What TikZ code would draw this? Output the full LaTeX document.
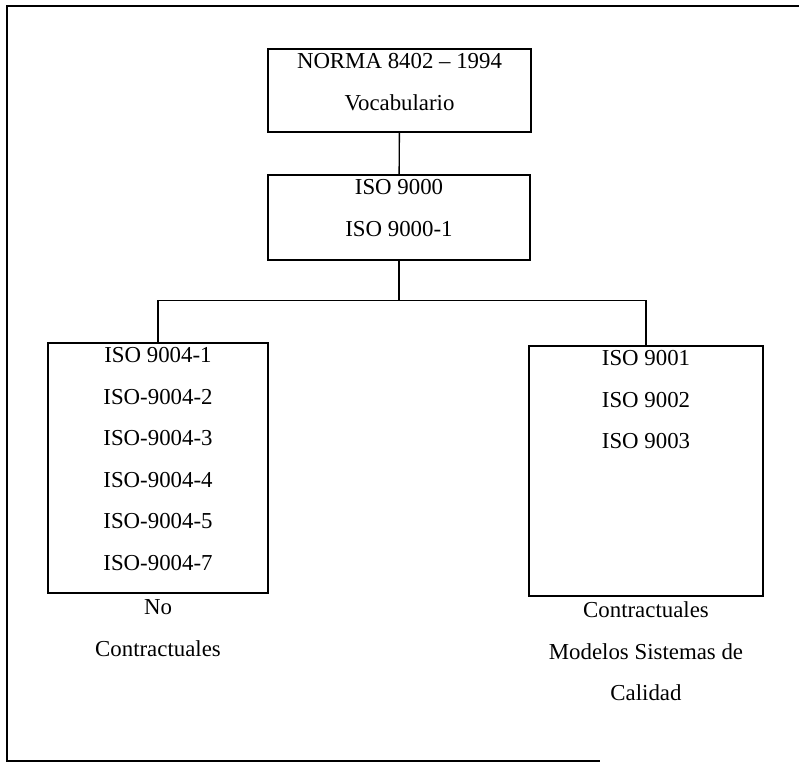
\documentclass[tikz,border=0pt]{standalone}
\usepackage{fontspec}
\setmainfont{Liberation Serif}
\usepackage{tikz}
\usetikzlibrary{positioning}
\newcommand{\listfont}{\fontsize{13}{23.6}\selectfont}

\begin{document}
\begin{tikzpicture}[
    box/.style={draw,line width=0.8pt,inner sep=0pt},
    entries/.style={align=center,inner sep=0pt,font=\listfont},
    link/.style={line width=0.8pt}]
  \useasboundingbox (0,0) rectangle (15.98,15.28);
  \draw[link] (15.98,15.16) -- (0.14,15.16) -- (0.14,0.06) -- (12.0,0.06);
  \node[box,minimum width=5.26cm,minimum height=1.66cm] (norma) at (7.99,13.47) {};
  \node[box,minimum width=5.24cm,minimum height=1.70cm] (iso) at (7.98,10.93) {};
  \node[box,minimum width=4.40cm,minimum height=5.00cm] (general) at (3.16,5.92) {};
  \node[box,minimum width=4.68cm,minimum height=5.00cm] (contract) at (12.92,5.86) {};
  \node[entries,anchor=north] (normatext) at ([yshift=-0.1cm]norma.north) {NORMA 8402 -- 1994\\Vocabulario};
  \node[entries,anchor=north] (isotext) at ([yshift=-0.1cm]iso.north) {ISO 9000\\ISO 9000-1};
  \node[entries,anchor=north] (generaltext) at ([yshift=-0.1cm]general.north)
    {ISO 9004-1\\ISO-9004-2\\ISO-9004-3\\ISO-9004-4\\ISO-9004-5\\ISO-9004-7};
  \node[entries,anchor=north] (contracttext) at ([yshift=-0.1cm]contract.north) {ISO 9001\\ISO 9002\\ISO 9003};
  \node[entries,anchor=north] (nocontract) at ([yshift=-0.12cm]general.south) {No\\Contractuales};
  \node[entries,anchor=north] (models) at ([yshift=-0.1cm]contract.south) {Contractuales\\Modelos Sistemas de\\Calidad};
  \coordinate (fork) at ([yshift=0.84cm]general.north);
  \draw[link] (norma) -- (iso);
  \draw[link] (iso.south) -- (iso.south |- fork);
  \draw[link] (general.north) -- (fork) -| (contract.north);
\end{tikzpicture}
\end{document}
